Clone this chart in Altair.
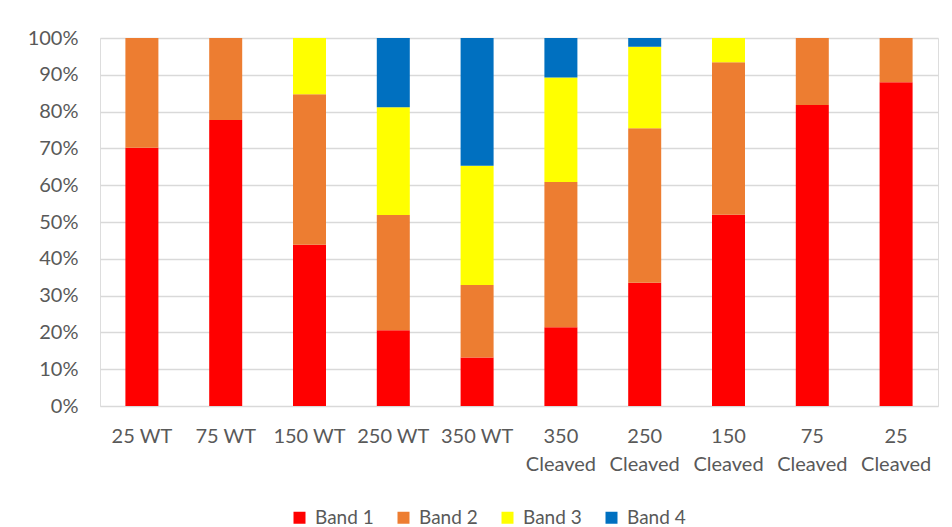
import altair as alt
import pandas as pd

# Sample labels, in plotting order
samples = ["25 WT", "75 WT", "150 WT", "250 WT", "350 WT",
           "350 Cleaved", "250 Cleaved", "150 Cleaved", "75 Cleaved", "25 Cleaved"]
bands = ["Band 1", "Band 2", "Band 3", "Band 4"]

# Share of each band per sample (percent)
band1 = [70.2, 77.7, 43.8, 20.6, 13.2, 21.4, 33.5, 52.0, 81.8, 88.0]
band2 = [29.8, 22.3, 40.9, 31.3, 19.7, 39.5, 42.0, 41.4, 18.2, 12.0]
band3 = [0.0, 0.0, 15.3, 29.3, 32.4, 28.4, 22.1, 6.6, 0.0, 0.0]
band4 = [0.0, 0.0, 0.0, 18.8, 34.7, 10.7, 2.4, 0.0, 0.0, 0.0]

colors = ["#FF0000", "#ED7D31", "#FFFF00", "#0070C0"]

rows = []
for b, vals in zip(bands, [band1, band2, band3, band4]):
    for s, v in zip(samples, vals):
        rows.append({"sample": s, "band": b, "order": bands.index(b), "share": v / 100.0})
df = pd.DataFrame(rows)

FONT = "Lato"
GREY = "#595959"

chart = alt.Chart(df).mark_bar(width=33).encode(
    x=alt.X("sample:N", sort=samples, title=None,
            scale=alt.Scale(paddingInner=0.6, paddingOuter=0.3),
            axis=alt.Axis(labelAngle=0, ticks=False, domain=False,
                          labelFontSize=20, labelColor=GREY, labelFont=FONT,
                          labelPadding=20, labelLineHeight=28,
                          labelExpr="indexof(datum.label, 'Cleaved') > 0 ? split(datum.label, ' ') : datum.label")),
    y=alt.Y("share:Q", stack="zero", title=None,
            scale=alt.Scale(domain=[0, 1], nice=False),
            axis=alt.Axis(format=".0%", values=[i / 10 for i in range(11)],
                          ticks=False, domain=False, grid=True,
                          gridColor="#D9D9D9", gridWidth=1.3,
                          labelFontSize=20, labelColor=GREY, labelFont=FONT,
                          labelPadding=22)),
    color=alt.Color("band:N", sort=bands,
                    scale=alt.Scale(domain=bands, range=colors),
                    legend=alt.Legend(title=None, orient="none", direction="horizontal",
                                      legendX=190, legendY=470,
                                      symbolType="square", symbolSize=144,
                                      symbolStrokeWidth=0, labelFontSize=19,
                                      labelFont=FONT, labelColor=GREY,
                                      columnPadding=20, labelOffset=6)),
    order=alt.Order("order:Q"),
).properties(
    width=838, height=368,
    autosize=alt.AutoSizeParams(type="none"),
    padding={"left": 100, "top": 38, "right": 14, "bottom": 121},
).configure_view(stroke=None).configure(background="white")

chart.save("out.html", embed_options={"renderer": "svg", "actions": False})
